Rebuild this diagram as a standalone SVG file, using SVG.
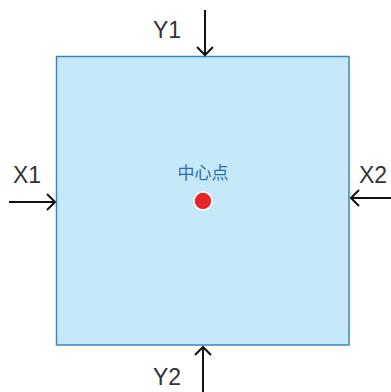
<svg xmlns="http://www.w3.org/2000/svg" width="391" height="392" viewBox="0 0 391 392">
<style>
.lbl{font-family:"Liberation Sans",Arial,sans-serif;font-size:23px;fill:#333}
.arr{stroke:#111;stroke-width:2;fill:none}
.cn{font-family:"Noto Sans CJK SC",sans-serif;font-size:17px;fill:#2a6ea8}
</style>
<rect width="391" height="392" fill="#fff"/>
<g id="square"><rect x="56.5" y="56.5" width="292.5" height="288.5" fill="#c6e9f9" stroke="#3a85c0" stroke-width="1.5"/></g>
<g id="center"><text class="cn" x="203" y="179" text-anchor="middle">中心点</text><circle cx="203" cy="201" r="9" fill="#e8262a" stroke="#fff" stroke-width="1.5"/></g>
<g id="Y1"><text class="lbl" x="153" y="38">Y1</text></g>
<g id="X1"><text class="lbl" x="13" y="183">X1</text></g>
<g id="X2"><text class="lbl" x="359" y="183">X2</text></g>
<g id="Y2"><text class="lbl" x="153" y="385">Y2</text></g>
<g id="connectors" class="arr">
<path d="M205 10V55M197 47L205 55L213 47"/>
<path d="M9 202H55M47 194L55 202L47 210"/>
<path d="M391 198H351M359 190L351 198L359 206"/>
<path d="M203 392V347M195 355L203 347L211 355"/>
</g>
</svg>
